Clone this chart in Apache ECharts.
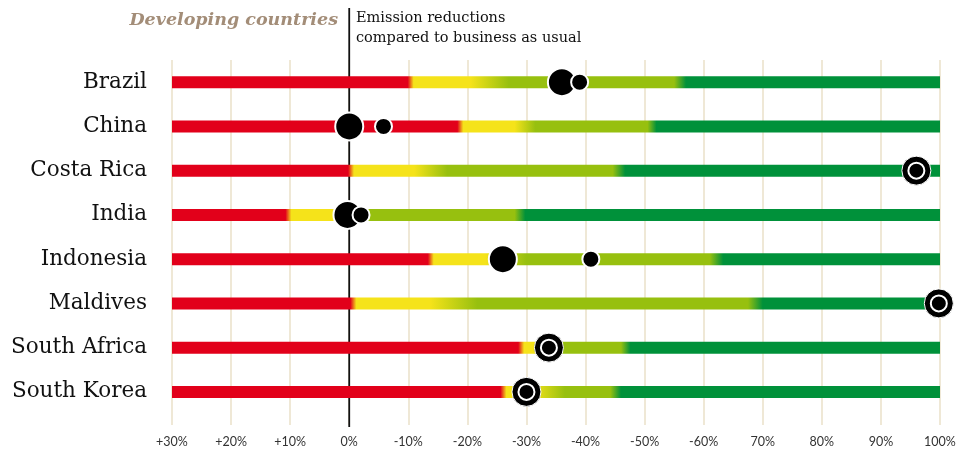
<!DOCTYPE html>
<html><head><meta charset="utf-8">
<script src="https://cdn.jsdelivr.net/npm/echarts@6/dist/echarts.min.js"></script>
<style>html,body{margin:0;padding:0;background:#fff}#c{width:959px;height:455px}</style>
</head><body><div id="c"></div>
<script>
// ---- data ----
const categories = ['Brazil', 'China', 'Costa Rica', 'India', 'Indonesia', 'Maldives', 'South Africa', 'South Korea'];
const tickLabels = ['+30%', '+20%', '+10%', '0%', '-10%', '-20%', '-30%', '-40%', '-50%', '-60%', '70%', '80%', '90%', '100%'];
// colour zone boundaries along each bar (reduction %, -30 .. 100)
const redEnd     = [9.9, 18.3, -0.2, -10.8, 13.3, 0.2, 28.6, 25.6];
const yellowEnd  = [20.5, 28, 11, -2, 23, 13.7, 31, 31];
const lightStart = [27, 31.5, 16.6, 3.5, 30, 21.7, 36, 36.5];
const lightEnd   = [55, 50.5, 44.6, 28, 61, 67.5, 46, 44.2];
const darkStart  = [57, 52, 46.7, 29.8, 63.3, 70, 47.6, 46];
// pledges shown as a pair of dots (low / high)
const pairCountries = ['Brazil', 'China', 'India', 'Indonesia'];
const pairLow  = [36, 0, -0.3, 26];
const pairHigh = [39, 5.8, 2, 40.9];
// pledges shown as a single ring marker
const ringCountries = ['Costa Rica', 'Maldives', 'South Africa', 'South Korea'];
const ringValues = [96, 99.8, 33.8, 30];

const X_MIN = -30, X_MAX = 100;
const RED = '#e2001a', YEL = '#f5e31a', LGR = '#97c00f', DGR = '#00913a';

const chart = echarts.init(document.getElementById('c'));
const off = v => Math.min(1, Math.max(0, (v - X_MIN) / (X_MAX - X_MIN)));

const barData = categories.map((c, i) => [i, redEnd[i], yellowEnd[i], lightStart[i], lightEnd[i], darkStart[i]]);

chart.setOption({
  animation: false,
  grid: { left: 172, right: 19, top: 60, bottom: 41, containLabel: false },
  xAxis: {
    type: 'value', min: X_MIN, max: X_MAX, interval: 10,
    axisLine: { show: false },
    axisTick: { show: true, length: 11, lineStyle: { color: '#efe8d6', width: 2 } },
    splitLine: { show: true, lineStyle: { color: '#efe8d6', width: 2 } },
    axisLabel: {
      margin: 21, fontFamily: 'Lato', fontSize: 12.5, color: '#333',
      formatter: v => tickLabels[Math.round((v - X_MIN) / 10)]
    }
  },
  yAxis: {
    type: 'category', data: categories, inverse: true,
    axisLine: { show: false }, axisTick: { show: false }, splitLine: { show: false },
    axisLabel: { fontFamily: 'DejaVu Serif', fontSize: 21.5, color: '#111', margin: 25 }
  },
  graphic: [
    { type: 'text', x: 338, y: 20, style: { text: 'Developing countries', align: 'right', verticalAlign: 'middle', font: 'italic bold 17.5px "DejaVu Serif"', fill: '#a38d78' } },
    { type: 'text', x: 356, y: 18, style: { text: 'Emission reductions', align: 'left', verticalAlign: 'middle', font: '14.5px "DejaVu Serif"', fill: '#111' } },
    { type: 'text', x: 356, y: 38, style: { text: 'compared to business as usual', align: 'left', verticalAlign: 'middle', font: '14.5px "DejaVu Serif"', fill: '#111' } }
  ],
  series: [
    {
      type: 'custom', z: 1,
      data: [[0, 0]], encode: { x: 0, y: 1 },
      renderItem: (params, api) => {
        const x = api.coord([0, 0])[0];
        return { type: 'line', shape: { x1: x, y1: 8, x2: x, y2: 427 }, style: { stroke: '#111', lineWidth: 1.8 } };
      }
    },
    {
      type: 'custom', z: 2,
      data: barData, encode: { y: 0 },
      renderItem: (params, api) => {
        const i = api.value(0);
        const p0 = api.coord([X_MIN, i]);
        const p1 = api.coord([X_MAX, i]);
        const h = 12;
        const r = api.value(1), ye = api.value(2), ls = api.value(3), le = api.value(4), ds = api.value(5);
        const stops = [
          { offset: 0, color: RED },
          { offset: off(r), color: RED },
          { offset: off(r + 1), color: YEL },
          { offset: off(ye), color: YEL },
          { offset: off(ls), color: LGR },
          { offset: off(le), color: LGR },
          { offset: off(ds), color: DGR },
          { offset: 1, color: DGR }
        ];
        return {
          type: 'rect',
          shape: { x: p0[0], y: p0[1] - h / 2, width: p1[0] - p0[0], height: h },
          style: { fill: new echarts.graphic.LinearGradient(0, 0, 1, 0, stops) }
        };
      }
    },
    {
      type: 'scatter', z: 3, symbol: 'circle', symbolSize: 28,
      itemStyle: { color: '#000', borderColor: '#fff', borderWidth: 2, opacity: 1 },
      data: pairCountries.map((c, i) => [pairLow[i], c])
    },
    {
      type: 'scatter', z: 4, symbol: 'circle', symbolSize: 17,
      itemStyle: { color: '#000', borderColor: '#fff', borderWidth: 2, opacity: 1 },
      data: pairCountries.map((c, i) => [pairHigh[i], c])
    },
    {
      type: 'scatter', z: 3, symbol: 'circle', symbolSize: 29,
      itemStyle: { color: '#000', borderColor: '#fff', borderWidth: 1, opacity: 1 },
      data: ringCountries.map((c, i) => [ringValues[i], c])
    },
    {
      type: 'scatter', z: 4, symbol: 'circle', symbolSize: 16,
      itemStyle: { color: '#000', borderColor: '#fff', borderWidth: 2, opacity: 1 },
      data: ringCountries.map((c, i) => [ringValues[i], c])
    }
  ]
});
</script>
</body></html>
